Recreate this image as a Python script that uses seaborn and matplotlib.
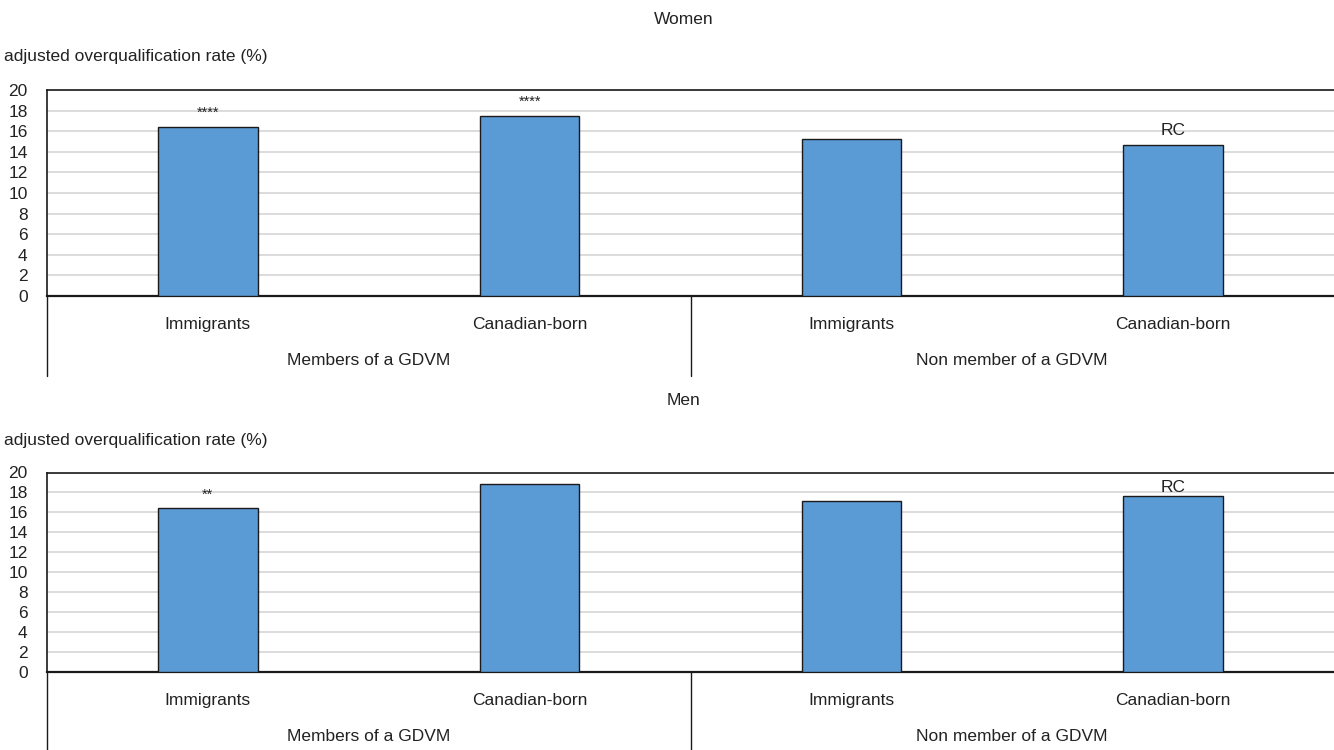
import matplotlib
matplotlib.use("Agg")
import matplotlib.pyplot as plt
import seaborn as sns
import pandas as pd

sns.set_theme(style="white")
plt.rcParams["font.family"] = ["Liberation Sans Narrow", "Liberation Sans", "DejaVu Sans"]

# Data
categories = ["Immigrants", "Canadian-born", "Immigrants ", "Canadian-born "]
tick_labels = ["Immigrants", "Canadian-born", "Immigrants", "Canadian-born"]
groups = ["Members of a GDVM", "Non member of a GDVM"]
women_values = [16.4, 17.5, 15.2, 14.7]
men_values = [16.4, 18.8, 17.1, 17.6]
women_notes = ["****", "****", "", "RC"]
men_notes = ["**", "", "", "RC"]
yticks = list(range(0, 21, 2))

BAR_COLOR = "#5b9bd5"
TEXT_COLOR = "#222222"
W, H = 1334, 750

fig = plt.figure(figsize=(W / 100, H / 100), dpi=100)


def frac(x0, y_top, x1, y_bot):
    return [x0 / W, 1 - y_bot / H, (x1 - x0) / W, (y_bot - y_top) / H]


def panel(rect, values, notes, title, title_y, ylabel_y, cat_depth, note_pad):
    ax = fig.add_axes(rect)
    df = pd.DataFrame({"cat": categories, "val": values})
    sns.barplot(data=df, x="cat", y="val", ax=ax, color=BAR_COLOR,
                width=0.31, edgecolor="#1a1a1a", linewidth=1.0,
                saturation=1, zorder=3)
    ax.set_xlim(-0.5, 3.5)
    ax.set_ylim(0, 20)
    ax.set_yticks(yticks)
    ax.set_yticklabels([str(t) for t in yticks], fontsize=12.5, color=TEXT_COLOR)
    ax.tick_params(axis="y", length=0, pad=14)
    ax.set_xticks([])
    ax.set_xlabel("")
    ax.set_ylabel("")
    ax.yaxis.grid(True, color="#dcdcdc", linewidth=1.4, zorder=0)
    ax.set_axisbelow(True)
    ax.spines["right"].set_visible(False)
    for side in ("top", "bottom", "left"):
        ax.spines[side].set_color("#1a1a1a")
        ax.spines[side].set_linewidth(1.2)
    ax.spines["bottom"].set_linewidth(1.6)

    # value notes above bars
    for i, (v, n) in enumerate(zip(values, notes)):
        if n:
            pad = note_pad if n == "RC" else 5
            ax.annotate(n, (i, v), xytext=(0, pad), textcoords="offset points",
                        ha="center", va="bottom",
                        fontsize=12.5 if n == "RC" else 10.5, color=TEXT_COLOR)

    # multi-level category axis below the plot
    trans = ax.get_xaxis_transform()
    ax_h_px = rect[3] * H
    depth = -cat_depth / ax_h_px
    lab1 = -33 / ax_h_px
    lab2 = -69 / ax_h_px
    ax.plot([-0.5, -0.5], [0, depth], transform=trans, color="#1a1a1a",
            linewidth=1.0, clip_on=False)
    ax.plot([1.5, 1.5], [0, depth], transform=trans, color="#1a1a1a",
            linewidth=1.0, clip_on=False)
    for i, lab in enumerate(tick_labels):
        ax.text(i, lab1, lab, transform=trans, ha="center", va="baseline",
                fontsize=12.5, color=TEXT_COLOR)
    for g, lab in enumerate(groups):
        ax.text(0.5 + 2 * g, lab2, lab, transform=trans, ha="center",
                va="baseline", fontsize=12.5, color=TEXT_COLOR)

    fig.text(684 / W, 1 - title_y / H, title, ha="center", va="center",
             fontsize=12.5, color=TEXT_COLOR)
    fig.text(4 / W, 1 - ylabel_y / H, "adjusted overqualification rate (%)",
             ha="left", va="center", fontsize=12.5, color=TEXT_COLOR)
    return ax


panel(frac(47, 90, 1334, 296), women_values, women_notes, "Women", 20, 56, 80, 5)
panel(frac(47, 472.5, 1334, 672), men_values, men_notes, "Men", 401, 440, 80, 1)

fig.savefig("out.png", dpi=100, facecolor="white")
